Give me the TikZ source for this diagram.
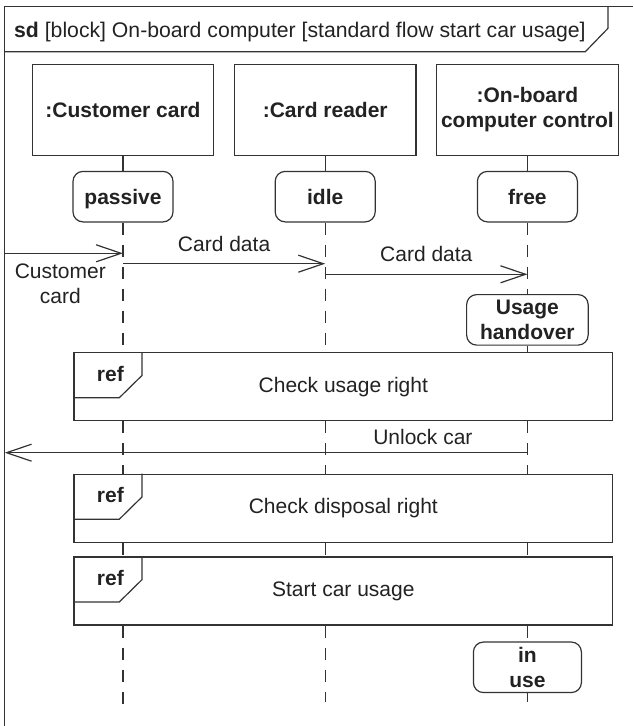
\documentclass[tikz,border=0pt]{standalone}
\usepackage{fontspec}
\setmainfont{Liberation Sans}
\usetikzlibrary{arrows.meta,positioning}
\definecolor{linegray}{HTML}{333333}
\definecolor{textgray}{HTML}{222222}
\tikzset{
  framestyle/.style={draw=linegray, line width=1.2pt},
  headbox/.style={draw=linegray, line width=1.2pt, fill=white, align=center,
    minimum width=181.5pt, minimum height=91pt, text=textgray,
    font=\fontsize{21}{25}\selectfont\bfseries},
  statebox/.style={draw=linegray, line width=1.2pt, fill=white, rounded corners=10pt,
    align=center, minimum width=100pt, minimum height=50.5pt, inner sep=4pt,
    text=textgray, font=\fontsize{21}{25}\selectfont\bfseries},
  refbox/.style={draw=linegray, line width=1.2pt, fill=white,
    minimum width=538.7pt, minimum height=68pt, text=textgray,
    font=\fontsize{21}{25}\selectfont},
  reflabel/.style={text=textgray, inner sep=0pt, font=\fontsize{21}{25}\selectfont\bfseries},
  msglabel/.style={text=textgray, inner sep=2pt, font=\fontsize{21}{25}\selectfont},
  msgarrow/.style={-{Straight Barb[length=25pt,width=17pt]}, draw=linegray, line width=1.2pt},
  lifestem/.style={draw=linegray, line width=1.2pt},
  lifeline/.style={draw=linegray, line width=1.2pt, dash pattern=on 12pt off 10pt}
}
\begin{document}
\begin{tikzpicture}[x=1pt, y=-1pt, node distance=15pt and 19.5pt]
  \useasboundingbox (0,0) rectangle (633,726);

  % frame and its name tab
  \draw[framestyle] (4.7,726) -- (4.7,6.7) -- (633,6.7);
  \draw[framestyle] (608,6.7) -- (608,28.3) -- (585.3,51.7) -- (4.7,51.7);
  \node[msglabel, anchor=base west, inner sep=0pt, font=\fontsize{21.2}{25}\selectfont] (title) at (14,37)
    {\textbf{sd} [block] On-board computer [standard flow start car usage]};

  % lifeline heads and states
  \node[headbox] (card) at (123,109.7) {:Customer card};
  \node[headbox, right=of card] (reader) {:Card reader};
  \node[headbox, right=of reader] (control) {:On-board\\computer control};
  \node[statebox, below=of card, text depth=0pt] (passive) {passive};
  \node[statebox, below=of reader] (idle) {idle};
  \node[statebox, below=of control] (free) {free};
  \node[statebox, below=71.5pt of free, inner xsep=13.5pt] (handover) {Usage\\handover};

  % interaction uses
  \node[refbox] (usageref) at (343.3,386.7) {Check usage right};
  \node[refbox] (disposalref) at (343.3,508.2) {Check disposal right};
  \node[refbox] (startref) at (343.3,590.9) {Start car usage};
  \foreach \r in {usageref,disposalref,startref}{
    \draw[framestyle] (\r.north west) ++(68.7,0) -- ++(0,23.3) -- ++(-22.7,22.3) -- ++(-46,0);
    \node[reflabel] (\r-tag) at ([shift={(37,21.6)}]\r.north west) {ref};
  }
  \node[statebox, minimum width=108pt] (inuse) at (control |- 0,667.3) {in\\use};

  % lifelines
  \coordinate (endone) at (0,710);
  \coordinate (endtwo) at (0,702);
  \draw[lifestem] (card) -- (passive);
  \draw[lifestem] (reader) -- (idle);
  \draw[lifestem] (control) -- (free);
  \foreach \l/\s in {card/passive, reader/idle}{
    \draw[lifeline] (\s.south) -- (usageref.north -| \l);
    \draw[lifeline] (usageref.south -| \l) -- (disposalref.north -| \l);
    \draw[lifeline] (disposalref.south -| \l) -- (startref.north -| \l);
  }
  \draw[lifeline] (startref.south -| card) -- (endone -| card);
  \draw[lifeline] (startref.south -| reader) -- (endtwo -| reader);
  \draw[lifeline] (free) -- (handover);
  \draw[lifeline] (handover.south) -- (usageref.north -| control);
  \draw[lifeline] (usageref.south -| control) -- (disposalref.north -| control);
  \draw[lifeline] (disposalref.south -| control) -- (startref.north -| control);
  \draw[lifeline] (startref.south -| control) -- (inuse);
  \draw[lifestem] (inuse) -- (endtwo -| control);

  % messages
  \coordinate (env) at (4.7,0);
  \coordinate (rowa) at (0,253.3);
  \coordinate (rowb) at (0,263.7);
  \coordinate (rowc) at (0,274.3);
  \coordinate (rowd) at (0,452.7);
  \draw[msgarrow] (env |- rowa) -- node[msglabel, below=8pt, pos=0.47, align=center] (cardin) {Customer\\card} (card |- rowa);
  \draw[msgarrow] (card |- rowb) -- node[msglabel, above=9pt] (dataone) {Card data} (reader |- rowb);
  \draw[msgarrow] (reader |- rowc) -- node[msglabel, above=9.5pt] (datatwo) {Card data} (control |- rowc);
  \draw[msgarrow] (control |- rowd) -- node[msglabel, above=5.5pt, pos=0.2] (unlock) {Unlock car} (env |- rowd);
\end{tikzpicture}
\end{document}
